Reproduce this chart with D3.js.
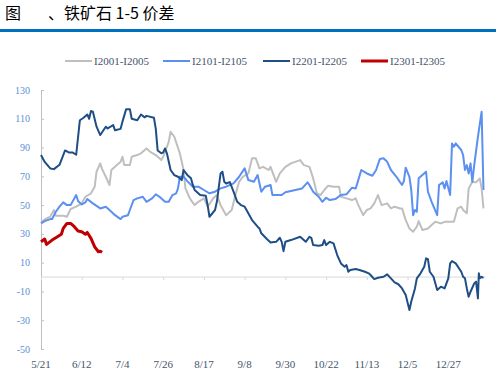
<!DOCTYPE html>
<html>
<head>
<meta charset="utf-8">
<script src="https://cdn.jsdelivr.net/npm/d3@7"></script>
<style>
  body { margin: 0; background: #fff; }
  svg { display: block; }
</style>
</head>
<body>
<div id="chart"></div>
<script>
// day = days since 5/21, value = spread
var i2001 = [[0,38],[2,40],[5,42],[7,46.6],[8,42.6],[12,42.6],[14,41.9],[16,47.3],[19,48.9],[22,51.2],[24,55.8],[27,58.2],[29,62.8],[30,73.2],[32,79],[33,75],[35,69.7],[37,64],[38,74.4],[41,77.8],[43,80.1],[44,83.6],[45,77.8],[48,77.8],[49,83.6],[52,84.8],[54,86],[57,89.4],[59,87],[62,84.8],[65,81.3],[66,83.6],[69,94],[70,101],[72,97.5],[75,86],[77,74.4],[78,61.6],[80,55.8],[81,53.5],[83,50],[85,52.3],[88,54.7],[90,48.9],[93,54.7],[95,57],[97,50],[100,43],[103,46.6],[105,57],[107,66.2],[109,69.7],[112,72],[114,82.5],[116,82.5],[118,75.5],[120,76.6],[123,74.4],[124,76.6],[127,66.2],[129,72],[132,76.6],[135,79],[140,81.3],[142,77.8],[145,76.6],[147,68.6],[149,58.2],[151,57],[153,60.5],[155,63.4],[158,62.8],[161,62.8],[162,55.8],[165,54.7],[168,53.5],[170,54.7],[171,51.2],[174,43],[176,46.6],[178,47.7],[180,51.2],[182,57],[184,50],[187,51.2],[189,47.7],[191,48.9],[194,47.7],[195,47.7],[197,39.6],[199,33.8],[201,31.5],[203,35],[204,38.9],[206,32.7],[209,33.8],[211,36.1],[213,38.4],[216,37.3],[218,38.4],[223,38.4],[225,47.7],[227,48.9],[228,46.6],[230,44.3],[231,61.6],[233,66.2],[235,65.8],[237,68.6],[238,61.6],[239,47.7]];

var i2101 = [[0,37.3],[2,38.9],[5,40.3],[6,40.3],[8,45.4],[10,48.9],[12,51.9],[14,50],[16,50],[19,57],[20,52.8],[22,50.5],[24,51.9],[25,54.2],[28,51.2],[32,47.7],[35,48.9],[37,46.6],[40,43],[43,40.3],[44,41.9],[47,43],[48,46.6],[50,53.5],[52,54.7],[55,55.8],[57,52.3],[60,54.7],[62,57.5],[64,55.8],[67,52.3],[69,52.3],[71,57],[73,58.2],[74,61.6],[75,69.7],[77,69.7],[79,66.7],[82,62.8],[85,62.8],[88,60.5],[91,58.2],[94,59.3],[97,61.6],[100,62.8],[104,65.1],[107,69.7],[110,75.5],[112,67.4],[115,66.2],[117,70.9],[119,59.3],[121,62.8],[124,64],[125,57],[130,57],[132,58.9],[141,61.6],[144,65.8],[145,64],[147,59.3],[150,55.8],[152,52.3],[154,55.1],[156,53.5],[159,54.2],[162,57],[165,57.5],[168,62.1],[170,61.6],[171,65.8],[173,74.4],[176,72],[179,70.4],[181,74.4],[183,82],[185,82.5],[187,80.1],[189,74.4],[192,69.7],[194,65.8],[195,64],[196,66.7],[197,76],[199,69.7],[200,60.5],[201,43],[202,46.6],[203,45.4],[204,68.6],[206,70.9],[208,73.2],[209,59.3],[211,52.3],[214,43],[215,64],[217,65.8],[218,61.6],[219,66.7],[221,57],[222,92.9],[223,90.6],[224,92.9],[227,88.3],[228,84.8],[229,74.4],[230,77.8],[231,72],[232,79],[233,66.2],[234,77.8],[236,97.5],[238,114.9],[239,60.5]];

var i2201 = [[0,84.8],[2,80],[5,75.5],[7,75],[10,78],[13,88],[15,86.6],[17,86.6],[19,85],[21,109],[23,110.7],[25,113],[26,110],[27,115.4],[28,115],[30,104.5],[32,98.7],[35,104.5],[36,103.3],[39,105.6],[40,102],[43,103],[44,108],[46,116.7],[48,116.7],[49,110],[52,109],[54,113],[56,111],[57,112],[61,110.7],[62,103],[63,88],[65,86],[66,86.6],[67,89.4],[68,86],[70,74.4],[72,70.9],[74,69.7],[76,67.4],[77,74.4],[79,71],[81,68.6],[82,64],[83,60.5],[86,57],[89,56.5],[90,50],[91,41.9],[94,46.6],[95,52.3],[97,72],[98,73.2],[99,66.2],[100,65],[102,66],[104,59.3],[106,52.3],[108,50],[110,48.9],[111,46.6],[114,39.6],[117,35],[118,33.8],[119,30.4],[122,26.4],[124,24],[127,24.5],[129,27.3],[130,24.5],[131,18],[132,24.5],[135,25.7],[140,28],[143,24.5],[145,28],[146,27.3],[147,22.2],[150,21.8],[152,22.2],[153,25.7],[154,22.2],[156,24.5],[158,23.4],[160,15.3],[162,9.5],[164,7.2],[165,8.3],[166,3.7],[167,4.9],[170,5.6],[172,4.9],[175,3.7],[177,2.6],[178,1.4],[180,-1.4],[182,-0.5],[185,0.2],[187,1.9],[189,-0.9],[191,-3.7],[193,-5],[195,-7.9],[197,-12.5],[199,-22.9],[200,-17],[202,-7.9],[203,-0.9],[205,2.6],[207,7.2],[208,13],[209,12.5],[210,3.7],[212,0.2],[214,-9],[216,-6.7],[218,-7.9],[220,-0.9],[221,9.5],[222,11.1],[224,9.5],[227,3.7],[228,0.2],[229,-0.9],[230,-7.9],[231,-13.7],[232,-10.2],[234,-4.4],[235,-3.2],[236,-14.8],[236.5,2.6],[237,-0.9],[238,0.2],[239,-0.5]];

var i2301 = [[0,24.5],[2,26.4],[3,22.7],[6,25.7],[8,27.3],[11,29.7],[12,33.8],[14,37.3],[16,37.3],[18,35],[20,32],[22,31.5],[24,29.7],[25,31],[27,26.9],[29,21],[31,17.6],[32,18],[33,17.2]];

var seriesNames = ['I2001-I2005', 'I2101-I2105', 'I2201-I2205', 'I2301-I2305'];
var seriesColors = ['#bfbfbf', '#5b8ff0', '#1f4e86', '#c00000'];
var seriesWidths = [2, 2, 2, 3];
var seriesData = [i2001, i2101, i2201, i2301];

var yTicks = [130, 110, 90, 70, 50, 30, 10, -10, -30, -50];
var xTickDays = [0, 22, 44, 66, 88, 110, 132, 154, 176, 198, 220];
var xTickLabels = ['5/21', '6/12', '7/4', '7/26', '8/17', '9/8', '9/30', '10/22', '11/13', '12/5', '12/27'];

var width = 496;
var height = 374;

var svg = d3.select('#chart').append('svg')
    .attr('width', width)
    .attr('height', height);

// title
svg.append('text')
    .attr('x', 5)
    .attr('y', 19)
    .attr('font-family', 'Noto Sans CJK SC')
    .attr('font-size', 16)
    .attr('fill', '#000')
    .text('图');
svg.append('text')
    .attr('x', 48)
    .attr('y', 19)
    .attr('font-family', 'Noto Sans CJK SC')
    .attr('font-size', 16)
    .attr('fill', '#000')
    .text('、铁矿石 1-5 价差');
svg.append('rect')
    .attr('x', 0)
    .attr('y', 29)
    .attr('width', width)
    .attr('height', 3)
    .attr('fill', '#0070c0');

var x = d3.scaleLinear().domain([0, 220]).range([41, 448.3]);
var y = d3.scaleLinear().domain([-50, 130]).range([349, 90]);

// y axis
var yAxis = d3.axisRight(y)
    .tickValues(yTicks)
    .tickSize(3)
    .tickFormat('');
var yg = svg.append('g')
    .attr('transform', 'translate(' + x(0) + ',0)')
    .call(yAxis);
yg.select('.domain').attr('stroke', '#bfbfbf');
yg.selectAll('.tick line').attr('stroke', '#bfbfbf');

svg.append('g').selectAll('text')
    .data(yTicks)
    .enter().append('text')
    .attr('x', 30)
    .attr('y', function (d) { return y(d); })
    .attr('dy', '0.35em')
    .attr('text-anchor', 'end')
    .attr('font-family', 'Liberation Serif')
    .attr('font-size', 10)
    .attr('fill', '#5b8fd6')
    .text(function (d) { return d; });

// x axis on zero line
var xAxis = d3.axisBottom(x)
    .tickValues(xTickDays)
    .tickSize(3)
    .tickFormat('');
var xg = svg.append('g')
    .attr('transform', 'translate(0,' + y(0) + ')')
    .call(xAxis);
xg.select('.domain').attr('stroke', '#d9d9d9').attr('d', 'M' + x(0) + ',0H' + x(240));
xg.selectAll('.tick line').attr('stroke', '#d9d9d9');

svg.append('g').selectAll('text')
    .data(xTickDays)
    .enter().append('text')
    .attr('x', function (d) { return x(d); })
    .attr('y', 368)
    .attr('text-anchor', 'middle')
    .attr('font-family', 'Liberation Serif')
    .attr('font-size', 11)
    .attr('fill', '#44546a')
    .text(function (d, i) { return xTickLabels[i]; });

// lines
var line = d3.line()
    .x(function (d) { return x(d[0]); })
    .y(function (d) { return y(d[1]); });

svg.append('g').selectAll('path')
    .data(seriesData)
    .enter().append('path')
    .attr('d', line)
    .attr('fill', 'none')
    .attr('stroke', function (d, i) { return seriesColors[i]; })
    .attr('stroke-width', function (d, i) { return seriesWidths[i]; })
    .attr('stroke-linejoin', 'round');

// legend
var legendX = [65, 163, 263, 361];
var legend = svg.append('g').selectAll('g')
    .data(seriesNames)
    .enter().append('g')
    .attr('transform', function (d, i) { return 'translate(' + legendX[i] + ',61)'; });
legend.append('line')
    .attr('x1', 0)
    .attr('x2', 27)
    .attr('stroke', function (d, i) { return seriesColors[i]; })
    .attr('stroke-width', function (d, i) { return seriesWidths[i]; });
legend.append('text')
    .attr('x', 29)
    .attr('dy', '0.35em')
    .attr('font-family', 'Liberation Serif')
    .attr('font-size', 11)
    .attr('fill', '#44546a')
    .text(function (d) { return d; });
</script>
</body>
</html>
